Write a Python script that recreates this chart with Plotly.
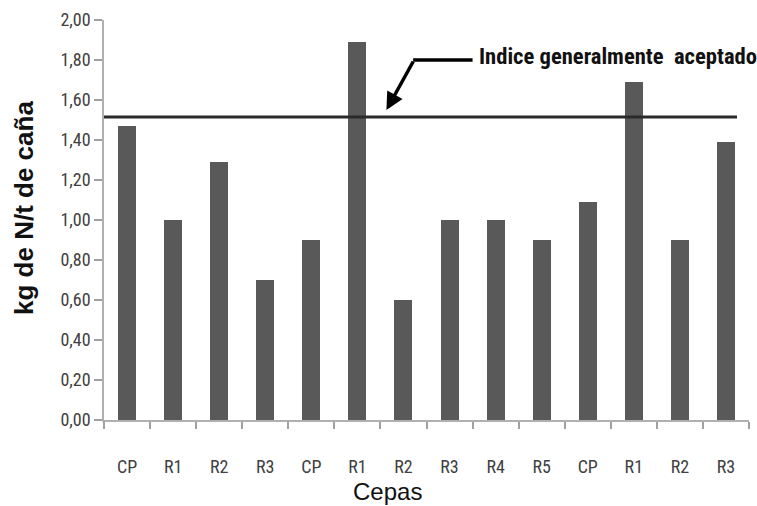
import plotly.graph_objects as go

categories = ["CP", "R1", "R2", "R3", "CP", "R1", "R2", "R3", "R4", "R5", "CP", "R1", "R2", "R3"]
values = [1.47, 1.00, 1.29, 0.70, 0.90, 1.89, 0.60, 1.00, 1.00, 0.90, 1.09, 1.69, 0.90, 1.39]
reference_value = 1.515
y_ticks = [0.0, 0.2, 0.4, 0.6, 0.8, 1.0, 1.2, 1.4, 1.6, 1.8, 2.0]
y_tick_labels = ["0,00", "0,20", "0,40", "0,60", "0,80", "1,00", "1,20", "1,40", "1,60", "1,80", "2,00"]

xs = list(range(len(categories)))
n = len(categories)

L, R, T, B = 104, 8, 20, 86
W, H = 757 - L - R, 506 - T - B

fig = go.Figure()
fig.add_trace(go.Bar(x=xs, y=values, width=0.39, marker=dict(color="#595959", line=dict(width=0)),
                     showlegend=False))

narrow = "Liberation Sans Narrow, Roboto Condensed, Liberation Sans, Arial, sans-serif"

fig.update_layout(
    width=757, height=506,
    margin=dict(l=L, r=R, t=T, b=B),
    plot_bgcolor="white", paper_bgcolor="white",
    bargap=0,
    xaxis=dict(
        range=[-0.5, n - 0.5],
        tickvals=xs, ticktext=categories,
        ticks="outside", ticklen=30, tickcolor="rgba(0,0,0,0)",
        tickfont=dict(family=narrow, size=18, color="#404040"),
        showline=True, linecolor="#b0b0b0", linewidth=1.5,
        showgrid=False, zeroline=False,
        minor=dict(ticks="outside", ticklen=7, tick0=-0.5, dtick=1, tickcolor="#a0a0a0", tickwidth=1.5),
    ),
    yaxis=dict(
        range=[0, 2.0],
        tickvals=y_ticks, ticktext=y_tick_labels,
        ticks="outside", ticklen=8, tickcolor="#a0a0a0", tickwidth=1.5,
        tickfont=dict(family=narrow, size=18, color="#404040"),
        showline=True, linecolor="#b0b0b0", linewidth=1.5,
        showgrid=False, zeroline=False,
    ),
)

# reference line
fig.add_shape(type="line", xref="x", yref="y", x0=-0.5, x1=13.24, y0=reference_value, y1=reference_value,
              line=dict(color="#2a2a2a", width=3))

# bent arrow: horizontal segment + arrow
fig.add_shape(type="line", xref="x", yref="y", x0=6.21, x1=7.50, y0=1.80, y1=1.80,
              line=dict(color="black", width=3.5))
fig.add_annotation(x=5.63, y=1.55, xref="x", yref="y", ax=6.23, ay=1.80, axref="x", ayref="y",
                   text="", showarrow=True, arrowhead=2, arrowsize=1, arrowwidth=3.5, arrowcolor="black")
fig.add_annotation(x=7.60, y=1.82, xref="x", yref="y", text="<b>Indice generalmente  aceptado</b>",
                   showarrow=False, xanchor="left", yanchor="middle",
                   font=dict(family=narrow, size=22.6, color="#111111"))

# axis titles (positions given in pixels, converted to paper coords)
fig.add_annotation(x=(387 - L) / W, y=(420 - 491) / H, xref="paper", yref="paper", text="Cepas",
                   showarrow=False, xanchor="center", yanchor="middle",
                   font=dict(family="Liberation Sans, Arial, sans-serif", size=24, color="#111111"))
fig.add_annotation(x=(24 - L) / W, y=(420 - 208) / H, xref="paper", yref="paper",
                   text="<b>kg de N/t de caña</b>", showarrow=False, textangle=-90,
                   xanchor="center", yanchor="middle",
                   font=dict(family="Liberation Sans, Arial, sans-serif", size=26, color="#111111"))

fig.write_html("out.html")
